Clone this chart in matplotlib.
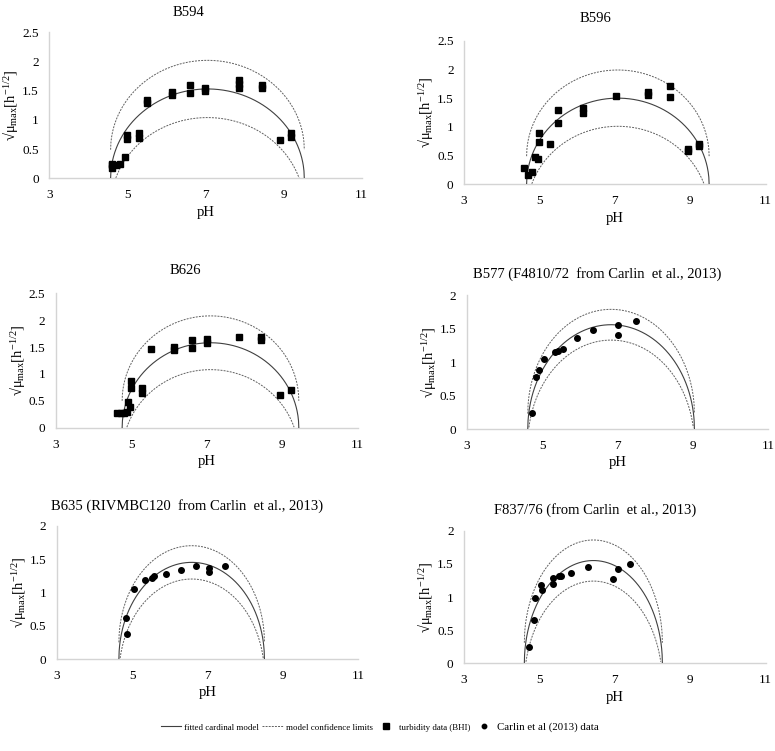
import numpy as np
import matplotlib
matplotlib.use('Agg')
import matplotlib.pyplot as plt
from matplotlib import rcParams
from matplotlib.lines import Line2D

rcParams.update({
    'font.family': 'serif',
    'font.serif': ['Liberation Serif', 'DejaVu Serif'],
    'mathtext.fontset': 'custom',
    'mathtext.rm': 'Liberation Serif',
    'mathtext.it': 'Liberation Serif',
    'xtick.labelsize': 9.5,
    'ytick.labelsize': 9.5,
    'axes.labelsize': 10.5,
})

# ---- turbidity data (BHI), sqrt(mu_max) vs pH ----
b594_ph = [4.6, 4.6, 4.6, 4.7, 4.8, 4.95, 5.0, 5.0, 5.3, 5.3, 5.5, 5.5, 6.15, 6.15,
           6.6, 6.6, 7.0, 7.0, 7.85, 7.85, 7.85, 8.45, 8.45, 8.9, 9.2, 9.2]
b594_mu = [0.18, 0.22, 0.25, 0.22, 0.25, 0.37, 0.67, 0.74, 0.69, 0.78, 1.29, 1.34, 1.42, 1.48,
           1.46, 1.59, 1.49, 1.55, 1.55, 1.62, 1.68, 1.54, 1.60, 0.66, 0.71, 0.78]

b596_ph = [4.6, 4.69, 4.81, 4.89, 4.96, 5.0, 5.0, 5.27, 5.5, 5.5, 6.15, 6.15,
           7.03, 7.87, 7.87, 8.45, 8.45, 8.94, 8.94, 9.23, 9.23]
b596_mu = [0.28, 0.17, 0.21, 0.47, 0.44, 0.89, 0.74, 0.71, 1.30, 1.07, 1.32, 1.25,
           1.54, 1.61, 1.55, 1.71, 1.52, 0.61, 0.58, 0.70, 0.67]

b626_ph = [4.62, 4.72, 4.81, 4.88, 4.92, 4.96, 4.99, 5.0, 5.28, 5.28, 5.52, 6.14, 6.14,
           6.62, 6.62, 7.02, 7.02, 7.85, 8.44, 8.44, 8.94, 9.22]
b626_mu = [0.27, 0.27, 0.27, 0.30, 0.48, 0.39, 0.73, 0.87, 0.73, 0.64, 1.46, 1.51, 1.45,
           1.63, 1.48, 1.65, 1.58, 1.69, 1.69, 1.63, 0.60, 0.70]

# ---- Carlin et al (2013) data ----
b577_ph = [4.73, 4.85, 4.92, 5.06, 5.35, 5.42, 5.55, 5.92, 6.35, 7.02, 7.02, 7.48]
b577_mu = [0.24, 0.78, 0.88, 1.05, 1.15, 1.17, 1.19, 1.36, 1.48, 1.55, 1.41, 1.62]

b635_ph = [4.84, 4.86, 5.05, 5.34, 5.54, 5.57, 5.9, 6.3, 6.69, 7.03, 7.04, 7.47]
b635_mu = [0.62, 0.37, 1.05, 1.19, 1.22, 1.24, 1.27, 1.34, 1.39, 1.37, 1.30, 1.39]

f837_ph = [4.73, 4.86, 4.88, 5.03, 5.07, 5.37, 5.37, 5.51, 5.57, 5.84, 6.3, 6.95, 7.08, 7.4]
f837_mu = [0.24, 0.66, 0.98, 1.18, 1.10, 1.20, 1.28, 1.32, 1.31, 1.36, 1.45, 1.27, 1.42, 1.50]

# ---- fitted cardinal pH model: pHmin, pHopt, pHmax, sqrt(mu_opt), confidence half-width ----
b594_fit = [4.57, 7.05, 9.53, 1.53, 0.49]
b596_fit = [4.66, 7.08, 9.50, 1.50, 0.49]
b626_fit = [4.76, 7.10, 9.44, 1.58, 0.50]
b577_fit = [4.62, 6.83, 9.04, 1.56, 0.23]
b635_fit = [4.65, 6.58, 8.51, 1.45, 0.25]
f837_fit = [4.60, 6.43, 8.26, 1.55, 0.31]

titles = ['B594', 'B596', 'B626',
          'B577 (F4810/72  from Carlin  et al., 2013)',
          'B635 (RIVMBC120  from Carlin  et al., 2013)',
          'F837/76 (from Carlin  et al., 2013)']

W, H = 775., 751.
# axes boxes in pixels: left, right, bottom, top
boxes = [(49.3, 361.7, 178.3, 32.3), (464.0, 765.7, 184.3, 40.7),
         (55.7, 357.7, 427.7, 293.3), (466.7, 768.3, 429.0, 295.3),
         (56.7, 358.3, 659.0, 525.7), (464.0, 765.7, 663.3, 530.7)]
title_xy = [(188, 12), (595, 18), (185, 271), (597, 274), (187, 506), (595, 510)]


def cpm(ph, a, c, b, smu):
    '''square root of the cardinal pH model (Rosso et al.)'''
    num = (ph - a) * (ph - b)
    den = num - (ph - c) ** 2
    mu = smu ** 2 * num / den
    return np.sqrt(np.clip(mu, 0, None))


def panel(ax, ph, mu, fit, ymax, marker, ms, width_px):
    a, c, b, smu, band = fit
    x = np.linspace(a, b, 600)
    y = cpm(x, a, c, b, smu)
    ax.plot(x, y, color='#404040', lw=0.8, zorder=3)
    ax.plot(x, y + band, color='#606060', lw=0.7, ls=(0, (2, 1.2)), zorder=2)
    lo = y - band
    ax.plot(x[lo >= 0], lo[lo >= 0], color='#606060', lw=0.7, ls=(0, (2, 1.2)), zorder=2)
    ax.plot(ph, mu, marker, color='k', ms=ms, ls='none', zorder=4)

    ax.set_xlim(3, 11)
    ax.set_ylim(0, ymax)
    ax.set_xticks([3, 5, 7, 9, 11])
    yt = np.arange(0, ymax + 0.01, 0.5)
    ax.set_yticks(yt)
    ax.set_yticklabels(['%g' % v for v in yt])
    for s in ['top', 'right']:
        ax.spines[s].set_visible(False)
    for s in ['left', 'bottom']:
        ax.spines[s].set_color('#d4d4d4')
        ax.spines[s].set_linewidth(1.0)
    ax.tick_params(axis='y', length=0, pad=7.5)
    ax.tick_params(axis='x', length=0, pad=8)
    ax.set_xlabel('pH', labelpad=3)
    ax.set_ylabel('√μ$_{\\mathrm{max}}$[h$^{\\mathrm{-1/2}}$]', fontsize=10.5,
                  va='center')
    # label centre sits ~39 px left of the y axis
    ax.yaxis.set_label_coords(-39.0 / width_px, 0.5)


fig = plt.figure(figsize=(W / 100, H / 100), dpi=100)

datasets = [(b594_ph, b594_mu, b594_fit, 2.5, 's', 4.2),
            (b596_ph, b596_mu, b596_fit, 2.5, 's', 4.2),
            (b626_ph, b626_mu, b626_fit, 2.5, 's', 4.2),
            (b577_ph, b577_mu, b577_fit, 2.0, 'o', 4.0),
            (b635_ph, b635_mu, b635_fit, 2.0, 'o', 4.0),
            (f837_ph, f837_mu, f837_fit, 2.0, 'o', 4.0)]

for i, (ph, mu, fit, ymax, mk, ms) in enumerate(datasets):
    l, r, b, t = boxes[i]
    ax = fig.add_axes([l / W, 1 - b / H, (r - l) / W, (b - t) / H])
    panel(ax, ph, mu, fit, ymax, mk, ms, r - l)
    tx, ty = title_xy[i]
    fig.text(tx / W, 1 - ty / H, titles[i], ha='center', va='center', fontsize=10.5)

handles = [Line2D([], [], color='#404040', lw=0.8),
           Line2D([], [], color='#606060', lw=0.7, ls=(0, (2, 1.2))),
           Line2D([], [], marker='s', color='k', ls='none', ms=4),
           Line2D([], [], marker='o', color='k', ls='none', ms=3.2)]
labels = ['fitted cardinal model', 'model confidence limits',
          'turbidity data (BHI)', 'Carlin et al (2013) data']
leg = fig.legend(handles, labels, loc='center', bbox_to_anchor=(380 / W, 1 - 727 / H),
                 ncol=4, frameon=False, fontsize=6.4, handlelength=2.3,
                 handletextpad=0.3, columnspacing=0.4)
leg.get_texts()[3].set_fontsize(7.8)

fig.savefig('out.png', dpi=100)
